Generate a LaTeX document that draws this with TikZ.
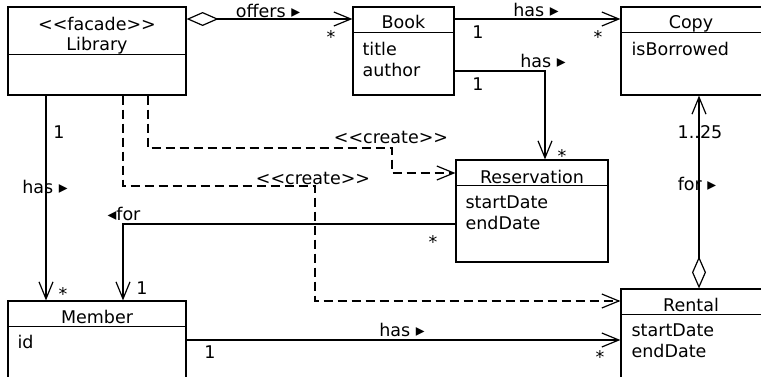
\documentclass[tikz,border=0pt]{standalone}
\usepackage{fontspec}
\setmainfont{DejaVu Sans}
\usetikzlibrary{arrows.meta}
\tikzset{
	classbox/.style = {draw, rectangle, inner sep=0pt},% box of a class
	classname/.style = {anchor=base, inner sep=0pt},% title line of a class
	attr/.style = {anchor=base west, inner sep=0pt},% attribute line
	lbl/.style = {anchor=base, inner sep=0pt},% role name, multiplicity
	aggr/.style = {{Diamond[open, length=16pt, width=7pt]}->},% aggregation
	create/.style = {->, dash pattern=on 4.5pt off 2.5pt}% dependency
}
\begin{document}
\begin{tikzpicture}[x=0.5pt, y=-0.5pt, line width=0.6pt,
		font=\fontsize{8.75}{10.5}\selectfont,
		>={Straight Barb[length=8.5pt, width=7pt]}]
	\useasboundingbox (0,0) rectangle (761,376);
	% classes
	\node[classbox, minimum width=89pt, minimum height=44pt] (lib) at (97,51) {};
	\draw ([yshift=-24pt]lib.north west) -- ([yshift=-24pt]lib.north east);
	\node[classname] (lib-st) at (97,30) {<{}<facade>{}>};
	\node[classname] (lib-name) at (97,50) {Library};

	\node[classbox, minimum width=50.5pt, minimum height=44pt] (book) at (403.5,51) {};
	\draw ([yshift=-13pt]book.north west) -- ([yshift=-13pt]book.north east);
	\node[classname] (book-name) at (403.5,28) {Book};
	\node[attr] (book-a1) at (362,55) {title};
	\node[attr] (book-a2) at (362,76) {author};

	\node[classbox, minimum width=70.5pt, minimum height=44pt] (copy) at (691.5,51) {};
	\draw ([yshift=-13pt]copy.north west) -- ([yshift=-13pt]copy.north east);
	\node[classname] (copy-name) at (691,28) {Copy};
	\node[attr] (copy-a1) at (631,55) {isBorrowed};

	\node[classbox, minimum width=76pt, minimum height=51pt] (res) at (532,211) {};
	\draw ([yshift=-13pt]res.north west) -- ([yshift=-13pt]res.north east);
	\node[classname] (res-name) at (532,183) {Reservation};
	\node[attr] (res-a1) at (465,208) {startDate};
	\node[attr] (res-a2) at (465,229) {endDate};

	\node[classbox, minimum width=89pt, minimum height=39pt] (mem) at (97,340) {};
	\draw ([yshift=-13pt]mem.north west) -- ([yshift=-13pt]mem.north east);
	\node[classname] (mem-name) at (97,323) {Member};
	\node[attr] (mem-a1) at (17,348) {id};

	\node[classbox, minimum width=70.5pt, minimum height=45.5pt] (rental) at (691.5,334.5) {};
	\draw ([yshift=-13pt]rental.north west) -- ([yshift=-13pt]rental.north east);
	\node[classname] (rental-name) at (691,311) {Rental};
	\node[attr] (rental-a1) at (631,336) {startDate};
	\node[attr] (rental-a2) at (631,357) {endDate};

	% associations
	\draw[aggr] ([yshift=16pt]lib.east) -- ([yshift=16pt]lib.east -| book.west);
	\draw[->] ([yshift=16pt]book.east) -- ([yshift=16pt]book.east -| copy.west);
	\draw[->] ([yshift=-10pt]book.east) -| ([xshift=6.5pt]res.north);
	\draw[aggr] ([xshift=3.75pt]rental.north) -- ([xshift=3.75pt]copy.south);
	\draw[->] ([xshift=-25.5pt]lib.south) -- ([xshift=-25.5pt]lib.south |- mem.north);
	\draw[->] ([yshift=-6.5pt]res.west) -| ([xshift=13pt]mem.north);
	\draw[->] (mem.east) -- (mem.east -| rental.west);

	% dependencies
	\coordinate (cr1) at (392,148);
	\coordinate (cr2) at (315,186);
	\draw[create] ([xshift=25.5pt]lib.south) |- (cr1) |- ([yshift=19pt]res.west);
	\draw[create] ([xshift=13pt]lib.south) |- (cr2) |- ([yshift=16.75pt]rental.west);

	% labels
	\node[lbl] (l-offers) at (268,17) {offers ▸};
	\node[lbl] (m-offers) at (331,43) {*};
	\node[lbl] (l-has1) at (536,16) {has ▸};
	\node[lbl] (m-has1a) at (478,38) {1};
	\node[lbl] (m-has1b) at (598,43) {*};
	\node[lbl] (l-has2) at (543,67) {has ▸};
	\node[lbl] (m-has2a) at (478,90) {1};
	\node[lbl] (m-has2b) at (562,162) {*};
	\node[lbl] (m-for1) at (700,138) {1..25};
	\node[lbl] (l-for1) at (697,190) {for ▸};
	\node[lbl] (l-create1) at (391,143) {<{}<create>{}>};
	\node[lbl] (l-create2) at (313,184) {<{}<create>{}>};
	\node[lbl] (m-has3a) at (59,138) {1};
	\node[lbl] (l-has3) at (45,193) {has ▸};
	\node[lbl] (m-has3b) at (63,300) {*};
	\node[lbl] (l-for2) at (124,220) {◂for};
	\node[lbl] (m-for2a) at (433,248) {*};
	\node[lbl] (m-for2b) at (142,294) {1};
	\node[lbl] (l-has4) at (402,336) {has ▸};
	\node[lbl] (m-has4a) at (210,358) {1};
	\node[lbl] (m-has4b) at (600,363) {*};
\end{tikzpicture}
\end{document}
